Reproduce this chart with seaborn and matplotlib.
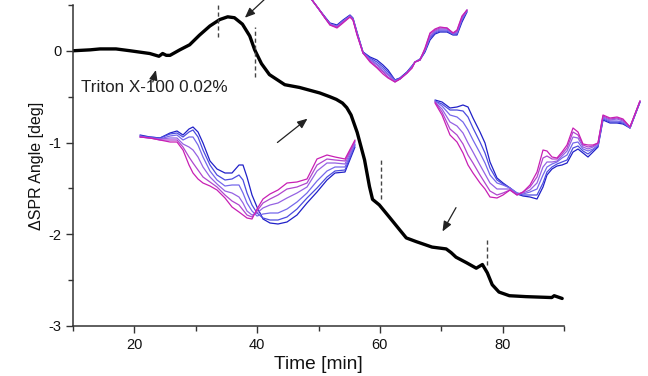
import numpy as np
import pandas as pd
import matplotlib
matplotlib.use("Agg")
import matplotlib.pyplot as plt
from matplotlib.ticker import MultipleLocator
import seaborn as sns

# ---------------- main sensorgram ----------------
time_min = [10, 12.8, 14.4, 17, 19.3, 22.5, 24, 24.6, 25.2, 25.8, 27.4, 29, 30.6, 32.3,
            33.9, 35.2, 36.3, 37.6, 38.8, 39.6, 40.7, 42, 44.5, 46.9, 50.2, 51.8, 52.9,
            53.9, 54.6, 55.3, 56.3, 57.5, 58.3, 58.8, 59.9, 61.5, 63.2, 64.3, 65.9, 68.5,
            70.8, 71.6, 72.4, 74.1, 75.7, 76.7, 77.5, 78.3, 79.4, 81.1, 83.8, 88.0, 88.4,
            89.7]
spr_angle = [0, 0.01, 0.02, 0.02, 0.0, -0.03, -0.06, -0.03, -0.05, -0.05, 0.01, 0.065,
             0.17, 0.27, 0.34, 0.37, 0.36, 0.29, 0.16, 0.01, -0.14, -0.26, -0.37, -0.40,
             -0.46, -0.50, -0.53, -0.57, -0.62, -0.70, -0.89, -1.19, -1.48, -1.62, -1.68,
             -1.81, -1.95, -2.04, -2.08, -2.14, -2.16, -2.20, -2.25, -2.31, -2.37, -2.33,
             -2.42, -2.55, -2.63, -2.67, -2.68, -2.69, -2.67, -2.70]

dash_x = [33.6, 39.6, 60.2, 77.5]
dash_top = [0.5, 0.26, -1.17, -2.04]
dash_bottom = [0.15, -0.29, -1.62, -2.33]

# arrows: (tail_x, tail_y, head_x, head_y)
arrow_tail_x = [23.0, 41.2, 43.3, 72.4]
arrow_tail_y = [-0.34, 0.56, -1.00, -1.71]
arrow_head_x = [23.5, 38.0, 48.2, 70.2]
arrow_head_y = [-0.21, 0.36, -0.74, -1.97]

x_ticks = [20, 40, 60, 80]
y_ticks = [0, -1, -2, -3]

# ---------------- inset spectra (arbitrary local units) ----------------
ins1_x = [5, 15, 25, 35, 42, 48, 54, 58, 63, 68, 75, 82, 90, 97, 104, 108, 112, 117, 122,
          128, 135, 143, 152, 162, 172, 182, 192, 200, 210, 220]
ins1_c0 = [40, 42, 43, 38, 36, 40, 34, 32, 37, 48, 66, 74, 78, 78, 70, 70, 82, 100, 112,
           124, 128, 129, 127, 120, 108, 97, 85, 78, 77, 52]
ins1_c1 = [41, 42, 43, 39, 38, 42, 37, 35, 42, 55, 70, 80, 85, 84, 80, 85, 98, 110, 118,
           123, 125, 125, 122, 114, 103, 93, 82, 76, 75, 50]
ins1_c2 = [41, 43, 44, 41, 40, 45, 42, 42, 50, 62, 76, 85, 91, 90, 90, 98, 108, 116, 121,
           119, 118, 118, 114, 107, 98, 86, 76, 72, 72, 49]
ins1_c3 = [42, 43, 44, 43, 43, 49, 52, 55, 62, 72, 82, 89, 96, 98, 102, 108, 116, 120, 118,
           113, 110, 108, 103, 98, 92, 76, 68, 68, 69, 47]
ins1_c4 = [42, 43, 45, 45, 45, 52, 62, 68, 75, 82, 87, 92, 100, 106, 110, 115, 120, 122, 116,
           108, 104, 100, 94, 92, 88, 70, 64, 65, 66, 46]
ins1_c5 = [42, 43, 45, 47, 47, 55, 70, 78, 84, 88, 91, 95, 103, 112, 117, 120, 123, 124, 114,
           104, 99, 95, 88, 87, 84, 64, 60, 62, 64, 45]

ins2_x = [12, 18, 25, 30, 37, 43, 50, 53, 57, 63, 70, 77, 83, 88, 95, 100, 107, 112, 115,
          120, 125, 130, 135, 140, 147, 153, 157, 162, 167]
ins2_c0 = [0, 8, 17, 23, 25, 20, 15, 18, 32, 52, 57, 60, 65, 70, 80, 78, 72, 66, 62, 60,
           52, 40, 34, 32, 32, 35, 35, 22, 12]
ins2_c1 = [0, 8, 17, 24, 26, 21, 16, 19, 33, 52, 58, 62, 67, 72, 80, 78, 72, 66, 62, 59,
           51, 38, 33, 31, 31, 34, 34, 20, 11]
ins2_c2 = [0, 8, 18, 24, 26, 21, 16, 19, 33, 53, 59, 64, 69, 74, 81, 79, 73, 67, 62, 59,
           50, 37, 32, 30, 30, 34, 33, 19, 11]
ins2_c3 = [0, 8, 18, 24, 27, 22, 16, 19, 34, 53, 60, 65, 71, 75, 81, 79, 73, 67, 62, 60,
           50, 36, 31, 29, 29, 33, 32, 18, 10]
ins2_c4 = [0, 8, 18, 25, 27, 22, 17, 20, 34, 53, 61, 67, 72, 77, 82, 79, 73, 68, 62, 60,
           49, 34, 30, 28, 28, 33, 31, 17, 10]
ins2_c5 = [0, 8, 18, 25, 28, 23, 17, 20, 35, 53, 62, 68, 74, 78, 82, 79, 73, 68, 62, 60,
           48, 33, 29, 27, 28, 33, 30, 16, 10]

ins3_x = [5, 12, 20, 27, 33, 38, 43, 50, 55, 60, 67, 73, 80, 87, 93, 100, 107, 113, 117,
          122, 127, 132, 137, 143, 148, 153, 158, 163, 168, 173, 180, 187, 193, 200, 210]
ins3_c0 = [5, 7, 13, 12, 10, 12, 23, 37, 48, 67, 83, 88, 93, 99, 101, 102, 104, 92, 80, 74,
           71, 70, 68, 57, 54, 58, 62, 57, 52, 25, 28, 28, 29, 33, 7]
ins3_c1 = [6, 9, 15, 15, 16, 22, 33, 47, 58, 73, 85, 89, 93, 98, 100, 100, 100, 88, 77, 72,
           69, 67, 65, 53, 51, 56, 59, 55, 51, 24, 27, 27, 28, 33, 7]
ins3_c2 = [6, 11, 20, 22, 27, 35, 45, 58, 68, 80, 88, 90, 93, 98, 99, 97, 94, 80, 72, 69,
           67, 63, 60, 48, 47, 54, 56, 54, 50, 23, 26, 26, 27, 33, 7]
ins3_c3 = [7, 14, 27, 31, 38, 48, 57, 70, 79, 88, 94, 94, 94, 99, 98, 95, 88, 72, 67, 67,
           66, 61, 56, 42, 43, 52, 54, 52, 49, 22, 25, 24, 26, 32, 6]
ins3_c4 = [7, 17, 34, 40, 49, 60, 68, 80, 88, 96, 100, 98, 95, 100, 97, 92, 82, 63, 61, 64,
           64, 59, 53, 37, 40, 50, 52, 51, 48, 21, 24, 23, 25, 32, 6]
ins3_c5 = [8, 20, 40, 47, 58, 70, 78, 88, 94, 102, 103, 100, 95, 100, 97, 90, 77, 55, 56, 62,
           63, 57, 50, 33, 37, 49, 50, 50, 48, 20, 23, 22, 24, 32, 6]

# ---------------- style ----------------
sns.set_style("ticks")
plt.rcParams['font.family'] = ['Liberation Sans', 'DejaVu Sans']
plt.rcParams['axes.edgecolor'] = '#333333'
plt.rcParams['xtick.color'] = '#333333'
plt.rcParams['ytick.color'] = '#333333'

fig = plt.figure(figsize=(6.48, 3.76), dpi=100)
ax = fig.add_axes([0.1127, 0.133, 0.7577, 0.854])

df_main = pd.DataFrame({"time": time_min, "angle": spr_angle})
sns.lineplot(data=df_main, x="time", y="angle", color="black", lw=2.4,
             estimator=None, sort=False, ax=ax)

ax.set_xlim(10, 90)
ax.set_ylim(-3, 0.5)
ax.set_xticks(x_ticks)
ax.set_yticks(y_ticks)
ax.set_yticklabels([str(v) for v in y_ticks])
ax.xaxis.set_minor_locator(MultipleLocator(10))
ax.yaxis.set_minor_locator(MultipleLocator(0.5))
ax.tick_params(which='major', length=5, width=1, labelsize=10.5, direction='out',
               labelcolor='#111111')
ax.tick_params(which='minor', length=3.5, width=1, direction='out')
for s in ['top', 'right']:
    ax.spines[s].set_visible(False)
for s in ['left', 'bottom']:
    ax.spines[s].set_linewidth(1.1)
ax.set_xlabel("Time [min]", fontsize=13.8, labelpad=3, color='#111111')
ax.set_ylabel("\u0394SPR Angle [deg]", fontsize=11.5, labelpad=3, color='#111111')

ax.vlines(dash_x, dash_bottom, dash_top, colors='#444444', linestyles=(0, (3, 2)), lw=1)

for tx, ty, hx, hy in zip(arrow_tail_x, arrow_tail_y, arrow_head_x, arrow_head_y):
    ax.annotate("", xy=(hx, hy), xytext=(tx, ty), annotation_clip=False,
                arrowprops=dict(arrowstyle="-|>,head_length=0.6,head_width=0.25",
                                color="#222222", lw=0.9, shrinkA=0, shrinkB=0))

ax.text(11.3, -0.40, "Triton X-100 0.02%", fontsize=12.3, va='center', ha='left',
        color='#222222')

palette = sns.blend_palette(['#2020c8', '#6a6aee', '#a060e0', '#c81fb4'], 6)


def draw_inset(rect, xs, curves, xlim, ylim):
    iax = fig.add_axes(rect)
    iax.patch.set_alpha(0)
    rows = []
    for i, c in enumerate(curves):
        for xv, yv in zip(xs, c):
            rows.append((i, xv, yv))
    d = pd.DataFrame(rows, columns=["curve", "x", "y"])
    sns.lineplot(data=d, x="x", y="y", hue="curve", palette=palette, lw=0.9,
                 estimator=None, sort=False, legend=False, ax=iax)
    iax.set_xlim(*xlim)
    iax.set_ylim(*ylim)
    iax.axis('off')


draw_inset([135 / 648, (376 - 230) / 376, 225 / 648, 135 / 376], ins1_x,
           [ins1_c0, ins1_c1, ins1_c2, ins1_c3, ins1_c4, ins1_c5], (0, 225), (135, 0))
draw_inset([300 / 648, (376 - 85) / 376, 175 / 648, 85 / 376], ins2_x,
           [ins2_c0, ins2_c1, ins2_c2, ins2_c3, ins2_c4, ins2_c5], (0, 175), (85, 0))
draw_inset([430 / 648, (376 - 205) / 376, 215 / 648, 110 / 376], ins3_x,
           [ins3_c0, ins3_c1, ins3_c2, ins3_c3, ins3_c4, ins3_c5], (0, 215), (110, 0))

fig.savefig("out.png", dpi=100)
